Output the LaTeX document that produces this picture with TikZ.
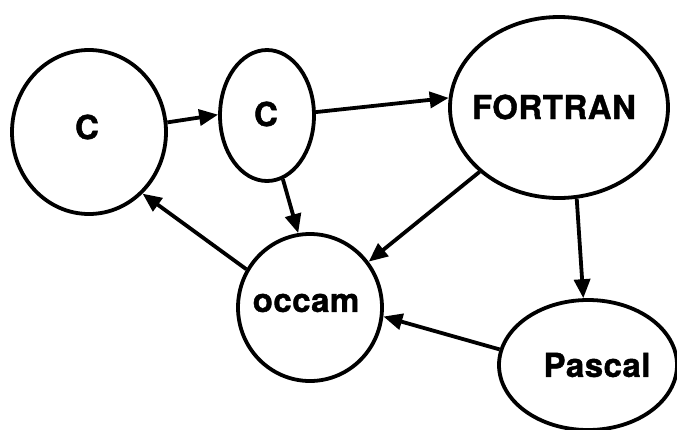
\documentclass[tikz,border=0pt]{standalone}
\usepackage{fontspec}
\newfontfamily\labfont[LetterSpace=1.5,FakeBold=1.2]{TeX Gyre Heros}
\usetikzlibrary{shapes.geometric,arrows.meta}
\tikzset{
  lang/.style={draw=black, line width=3.8pt, ellipse, inner sep=0pt, fill=white},
  langtext/.style={font=\labfont\bfseries\fontsize{33}{33}\selectfont, inner sep=0pt},
  flow/.style={line width=3.8pt, -{Triangle[length=19pt,width=16pt]}}
}
\begin{document}
\begin{tikzpicture}[x=1pt,y=-1pt]
  \clip (0,0) rectangle (677,429);
  \fill[white] (0,0) rectangle (677,429);

  % language bubbles
  \node[lang, minimum width=154pt, minimum height=164pt] (cL) at (89,132) {};
  \node[lang, minimum width=94pt, minimum height=131pt] (cM) at (267,115.5) {};
  \node[lang, minimum width=218pt, minimum height=181pt] (fort) at (559,107.5) {};
  \node[lang, minimum width=144pt, minimum height=147pt] (occam) at (310,307.5) {};
  \node[lang, minimum width=178pt, minimum height=130pt] (pascal) at (588,365) {};

  % names
  \node[langtext] (cLt) at (87,127) {C};
  \node[langtext] (cMt) at (266,114) {C};
  \node[langtext] (fortt) at (554,107) {FORTRAN};
  \node[langtext] (occamt) at (306,303) {occam};
  \node[langtext] (pascalt) at (597,365) {Pascal};

  % translations
  \draw[flow] (cL.7) -- (cM.179);
  \draw[flow] (cM.4) -- (fort.175);
  \draw[flow] (cM.-76) -- (occam.99);
  \draw[flow] (fort.219) -- (occam.38);
  \draw[flow] (fort.-79) -- (pascal.94);
  \draw[flow] (pascal.170) -- (occam.-7);
  \draw[flow] (occam.149) -- (cL.-49);
\end{tikzpicture}
\end{document}
